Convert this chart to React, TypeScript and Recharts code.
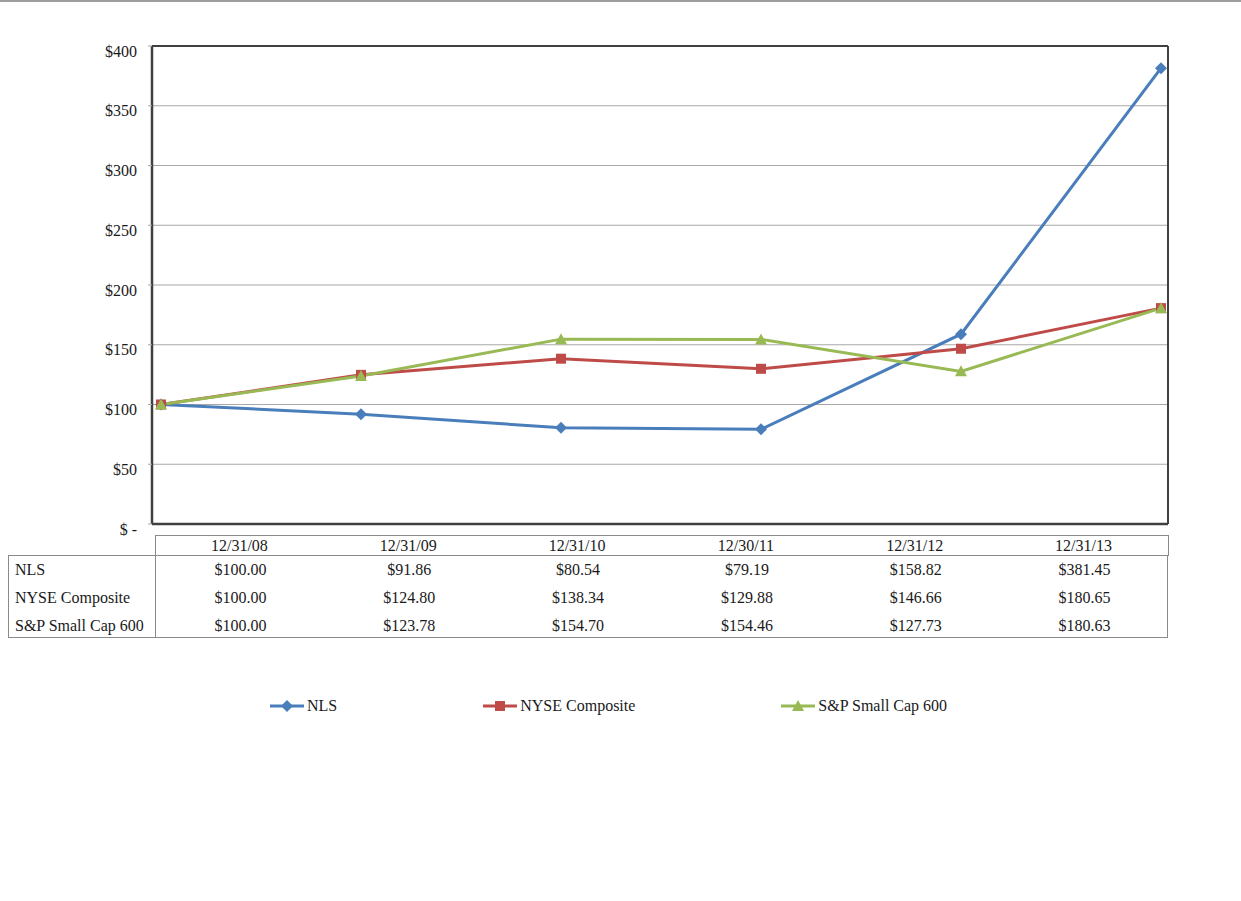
import React from 'react';
import { LineChart, Line, XAxis, YAxis, CartesianGrid } from 'recharts';

const dates = ['12/31/08', '12/31/09', '12/31/10', '12/30/11', '12/31/12', '12/31/13'];
const nlsValues = [100, 91.86, 80.54, 79.19, 158.82, 381.45];
const nyseValues = [100, 124.8, 138.34, 129.88, 146.66, 180.65];
const spValues = [100, 123.78, 154.7, 154.46, 127.73, 180.63];
const seriesNames = ['NLS', 'NYSE Composite', 'S&P Small Cap 600'];
const seriesColors = ['#4A7EBB', '#BE4B48', '#98B954'];
const yTicks = [0, 50, 100, 150, 200, 250, 300, 350, 400];

const seriesValues = [nlsValues, nyseValues, spValues];
const seriesKeys = ['nls', 'nyse', 'sp'];
const data = dates.map((d, i) => ({ date: d, nls: nlsValues[i], nyse: nyseValues[i], sp: spValues[i] }));

const FONT = '"Liberation Serif", "Times New Roman", serif';
const BORDER = '#404040';

function Marker({ kind, cx, cy, fill }: { kind: number; cx: number; cy: number; fill: string }) {
  if (kind === 0) {
    return <path d={`M${cx},${cy - 6}L${cx + 6},${cy}L${cx},${cy + 6}L${cx - 6},${cy}Z`} fill={fill} />;
  }
  if (kind === 1) {
    return <rect x={cx - 5} y={cy - 5} width={10} height={10} fill={fill} />;
  }
  return <path d={`M${cx},${cy - 6}L${cx + 6},${cy + 5}L${cx - 6},${cy + 5}Z`} fill={fill} />;
}

const makeDot = (kind: number, color: string) => (p: any) => {
  if (p.cx == null || p.cy == null) return <g key={`e${p.index}`} />;
  return <Marker key={`d${kind}-${p.index}`} kind={kind} cx={p.cx} cy={p.cy} fill={color} />;
};

const fmtY = (v: number) => (v === 0 ? '$ -' : `$${v}`);
const fmtMoney = (v: number) => `$${v.toFixed(2)}`;

export default function App() {
  return (
    <div style={{ position: 'absolute', left: 0, top: 0, width: 1241, height: 901, background: '#fff', fontFamily: FONT, color: '#1a1a1a' }}>
      <div style={{ position: 'absolute', left: 0, top: 0, width: 1241, height: 2, background: '#9e9e9e' }} />
      <div style={{ position: 'absolute', left: 0, top: 0 }}>
        <LineChart width={1241} height={540} data={data} margin={{ top: 45, right: 72, bottom: 15, left: 92 }}>
          <CartesianGrid vertical={false} stroke="#a8a8a8" strokeWidth={1.2} />
          <XAxis dataKey="date" padding={{ left: 9, right: 7 }} height={1} tick={false} tickLine={false} axisLine={{ stroke: BORDER, strokeWidth: 2.5 }} />
          <XAxis xAxisId="top" orientation="top" dataKey="date" padding={{ left: 9, right: 7 }} height={1} tick={false} tickLine={false} axisLine={{ stroke: BORDER, strokeWidth: 2 }} />
          <YAxis
            domain={[0, 400]}
            ticks={yTicks}
            width={60}
            tickFormatter={fmtY}
            tickSize={4}
            tickMargin={11}
            tickLine={{ stroke: '#a8a8a8' }}
            axisLine={{ stroke: BORDER, strokeWidth: 2.5 }}
            tick={{ fill: '#1a1a1a', fontSize: 16, fontFamily: FONT, dy: 5 }}
            interval={0}
          />
          <YAxis yAxisId="right" orientation="right" domain={[0, 400]} width={1} tick={false} tickLine={false} axisLine={{ stroke: BORDER, strokeWidth: 2 }} />
          {seriesKeys.map((k, i) => (
            <Line
              key={k}
              dataKey={k}
              name={seriesNames[i]}
              stroke={seriesColors[i]}
              strokeWidth={3}
              dot={makeDot(i, seriesColors[i])}
              activeDot={false}
              isAnimationActive={false}
            />
          ))}
        </LineChart>
      </div>

      {/* data table */}
      <div style={{ position: 'absolute', left: 155, top: 535, width: 1013, height: 20, borderTop: '1px solid #8a8a8a', borderRight: '1px solid #8a8a8a', display: 'flex', fontSize: 16 }}>
        {dates.map((d) => (
          <div key={d} style={{ flex: 1, textAlign: 'center', lineHeight: '20px' }}>{d}</div>
        ))}
      </div>
      <div style={{ position: 'absolute', left: 8, top: 555, width: 1160, height: 83, border: '1px solid #8a8a8a', boxSizing: 'border-box', fontSize: 16 }}>
        <div style={{ position: 'absolute', left: 146, top: -21, width: 1, height: 103, background: '#8a8a8a' }} />
        {seriesNames.map((n, r) => (
          <div key={n} style={{ position: 'absolute', left: 0, top: r * 28, width: 1160, height: 28, display: 'flex', alignItems: 'center' }}>
            <div style={{ width: 147, paddingLeft: 6, boxSizing: 'border-box', whiteSpace: 'nowrap' }}>{n}</div>
            {seriesValues[r].map((v, c) => (
              <div key={c} style={{ flex: 1, textAlign: 'center' }}>{fmtMoney(v)}</div>
            ))}
          </div>
        ))}
      </div>

      {/* legend */}
      <div style={{ position: 'absolute', left: 270, top: 696, height: 20, display: 'flex', alignItems: 'center', gap: 146, fontSize: 16 }}>
        {seriesNames.map((n, i) => (
          <div key={n} style={{ display: 'flex', alignItems: 'center', whiteSpace: 'nowrap' }}>
            <svg width={34} height={14} style={{ display: 'block' }}>
              <line x1={0} y1={7} x2={34} y2={7} stroke={seriesColors[i]} strokeWidth={3} />
              <Marker kind={i} cx={17} cy={7} fill={seriesColors[i]} />
            </svg>
            <span style={{ marginLeft: 3 }}>{n}</span>
          </div>
        ))}
      </div>
    </div>
  );
}
